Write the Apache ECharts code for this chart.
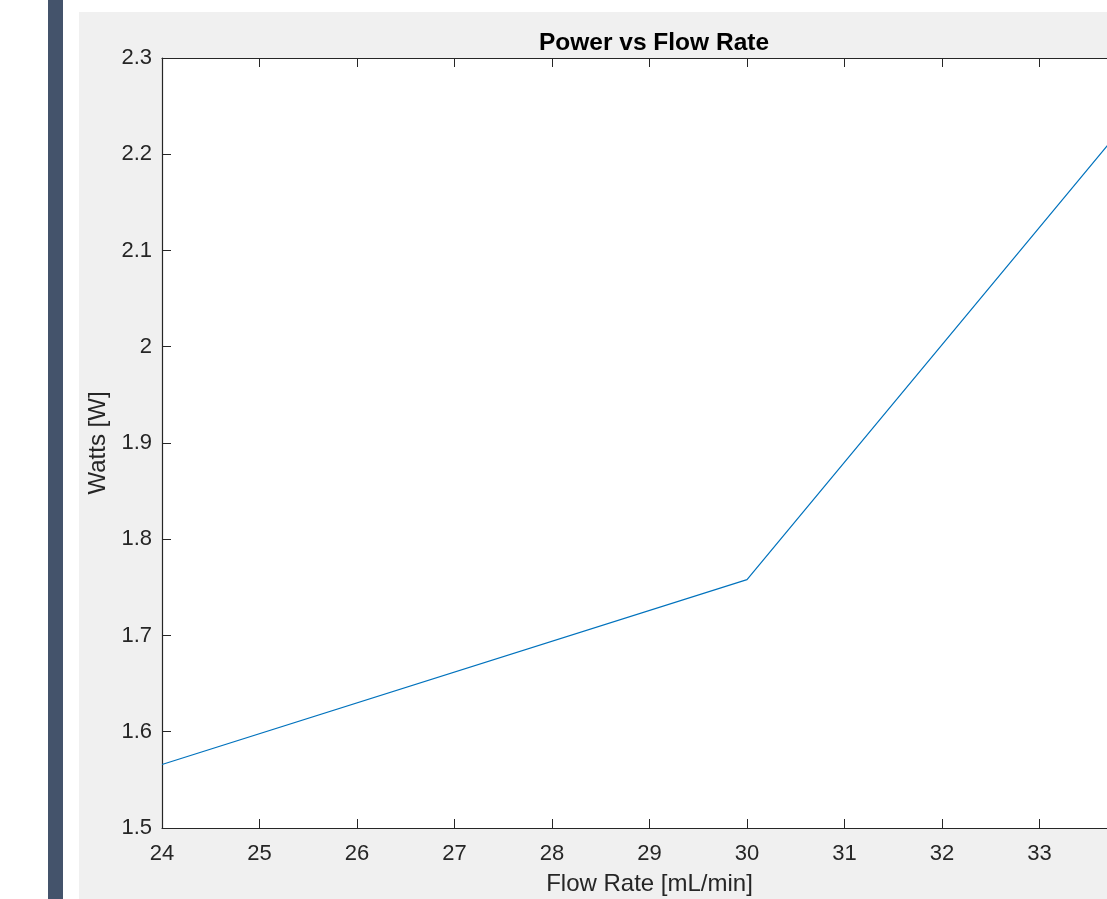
<!DOCTYPE html>
<html>
<head>
<meta charset="utf-8">
<script src="https://cdn.jsdelivr.net/npm/echarts@6/dist/echarts.min.js"></script>
<style>
html,body{margin:0;padding:0;background:#ffffff;width:1107px;height:899px;overflow:hidden;position:relative;}
#bar{position:absolute;left:48px;top:0;width:15px;height:899px;background:#44536b;}
#panel{position:absolute;left:79px;top:12px;width:1200px;height:900px;background:#f0f0f0;}
#chart{position:absolute;left:0;top:0;width:1200px;height:899px;}
</style>
</head>
<body>
<div id="bar"></div>
<div id="panel"></div>
<div id="chart"></div>
<script>
// Data
const flowRate = [24, 30, 34];
const watts = [1.566, 1.758, 2.246];
const xTicks = [24, 25, 26, 27, 28, 29, 30, 31, 32, 33, 34];
const yTicks = [1.5, 1.6, 1.7, 1.8, 1.9, 2, 2.1, 2.2, 2.3];

const axisColor = '#262626';
const font = 'Liberation Sans, Arial, Helvetica, sans-serif';

const chart = echarts.init(document.getElementById('chart'), null, {renderer: 'canvas'});

const tickCommon = {
  show: true, inside: true, length: 9,
  lineStyle: {color: axisColor, width: 1}
};
const lineCommon = {show: true, onZero: false, lineStyle: {color: axisColor, width: 1.2}};

chart.setOption({
  backgroundColor: 'transparent',
  animation: false,
  title: {
    text: 'Power vs Flow Rate',
    left: 649, textAlign: 'center', top: 26,
    textStyle: {fontFamily: font, fontWeight: 'bold', fontSize: 24.5, color: '#000000'}
  },
  grid: {
    left: 162, top: 58, width: 975, height: 770,
    containLabel: false, outerBoundsMode: 'none',
    show: true, backgroundColor: '#ffffff', borderWidth: 0
  },
  xAxis: [{
    type: 'value', position: 'bottom',
    min: xTicks[0], max: xTicks[xTicks.length - 1], interval: 1,
    name: 'Flow Rate [mL/min]', nameLocation: 'middle', nameGap: 44,
    nameTextStyle: {fontFamily: font, fontSize: 24, color: axisColor},
    axisLine: lineCommon, axisTick: tickCommon,
    axisLabel: {fontFamily: font, fontSize: 22, color: axisColor, margin: 15},
    splitLine: {show: false}
  }, {
    type: 'value', position: 'top',
    min: xTicks[0], max: xTicks[xTicks.length - 1], interval: 1,
    axisLine: lineCommon, axisTick: tickCommon,
    axisLabel: {show: false}, splitLine: {show: false}
  }],
  yAxis: [{
    type: 'value', position: 'left',
    min: yTicks[0], max: yTicks[yTicks.length - 1], interval: 0.1,
    name: 'Watts [W]', nameLocation: 'middle', nameGap: 42,
    nameTextStyle: {fontFamily: font, fontSize: 24, color: axisColor},
    axisLine: lineCommon, axisTick: tickCommon,
    axisLabel: {fontFamily: font, fontSize: 22, color: axisColor, margin: 10,
      padding: [6, 0, 0, 0],
      formatter: v => String(Math.round(v * 10) / 10)},
    splitLine: {show: false}
  }, {
    type: 'value', position: 'right',
    min: yTicks[0], max: yTicks[yTicks.length - 1], interval: 0.1,
    axisLine: lineCommon, axisTick: tickCommon,
    axisLabel: {show: false}, splitLine: {show: false}
  }],
  series: [{
    type: 'line',
    data: flowRate.map((x, i) => [x, watts[i]]),
    showSymbol: false, symbol: 'none',
    lineStyle: {color: '#0072BD', width: 1.2},
    itemStyle: {color: '#0072BD'},
    clip: false
  }]
});
</script>
</body>
</html>
